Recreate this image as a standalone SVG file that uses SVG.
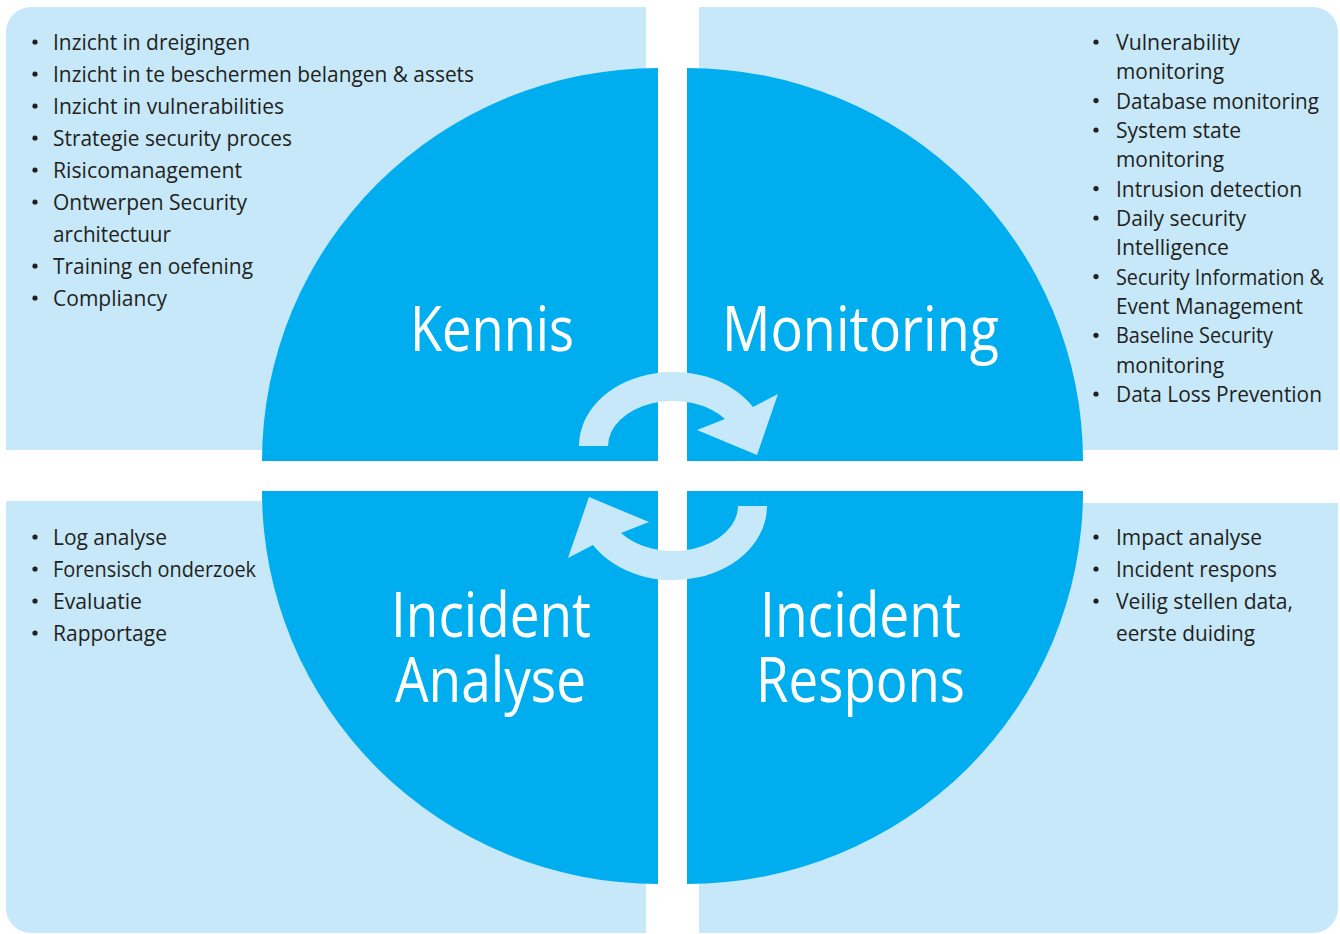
<svg xmlns="http://www.w3.org/2000/svg" width="1340" height="934" viewBox="0 0 1340 934">
<style>
.panel{fill:#c6e8f8}
.quad{fill:#00aeef}
.big{font-family:"Open Sans","DejaVu Sans",sans-serif;font-size:62px;fill:#ffffff;lengthAdjust:spacingAndGlyphs}
.li{font-family:"Open Sans","DejaVu Sans",sans-serif;font-size:21px;fill:#231f20}
.dot{fill:#231f20}
.arrow{fill:#c6e8f8}
</style>
<rect x="0" y="0" width="1340" height="934" fill="#ffffff"/>
<g id="kennis">
<path class="panel" d="M6,450 V32 A25,25 0 0 1 31,7 H646 V450 Z"/>
<path class="quad" d="M658,461 H262 A396,393 0 0 1 658,68 Z"/>
<text class="big" x="410" y="351" textLength="164" lengthAdjust="spacingAndGlyphs">Kennis</text>
<g class="dot"><circle cx="35" cy="42" r="2.6"/><circle cx="35" cy="74" r="2.6"/><circle cx="35" cy="106" r="2.6"/><circle cx="35" cy="138" r="2.6"/><circle cx="35" cy="170" r="2.6"/><circle cx="35" cy="202" r="2.6"/><circle cx="35" cy="266" r="2.6"/><circle cx="35" cy="298" r="2.6"/></g>
<text class="li" x="53" y="50" textLength="197" lengthAdjust="spacingAndGlyphs">Inzicht in dreigingen</text>
<text class="li" x="53" y="82" textLength="421" lengthAdjust="spacingAndGlyphs">Inzicht in te beschermen belangen &amp; assets</text>
<text class="li" x="53" y="114" textLength="231" lengthAdjust="spacingAndGlyphs">Inzicht in vulnerabilities</text>
<text class="li" x="53" y="146" textLength="239" lengthAdjust="spacingAndGlyphs">Strategie security proces</text>
<text class="li" x="53" y="178" textLength="189" lengthAdjust="spacingAndGlyphs">Risicomanagement</text>
<text class="li" x="53" y="210" textLength="194" lengthAdjust="spacingAndGlyphs">Ontwerpen Security</text>
<text class="li" x="53" y="242" textLength="118" lengthAdjust="spacingAndGlyphs">architectuur</text>
<text class="li" x="53" y="274" textLength="200" lengthAdjust="spacingAndGlyphs">Training en oefening</text>
<text class="li" x="53" y="306" textLength="114" lengthAdjust="spacingAndGlyphs">Compliancy</text>
</g>
<g id="monitoring">
<path class="panel" d="M699,7 H1313 A25,25 0 0 1 1338,32 V450 H699 Z"/>
<path class="quad" d="M687,461 V68 A396,393 0 0 1 1083,461 Z"/>
<text class="big" x="722" y="351" textLength="277" lengthAdjust="spacingAndGlyphs">Monitoring</text>
<g class="dot"><circle cx="1096" cy="42" r="2.6"/><circle cx="1096" cy="100.6" r="2.6"/><circle cx="1096" cy="130" r="2.6"/><circle cx="1096" cy="188.6" r="2.6"/><circle cx="1096" cy="218" r="2.6"/><circle cx="1096" cy="276.6" r="2.6"/><circle cx="1096" cy="335.3" r="2.6"/><circle cx="1096" cy="394" r="2.6"/></g>
<text class="li" x="1116" y="50" textLength="124" lengthAdjust="spacingAndGlyphs">Vulnerability</text>
<text class="li" x="1116" y="79.3" textLength="108" lengthAdjust="spacingAndGlyphs">monitoring</text>
<text class="li" x="1116" y="108.6" textLength="203" lengthAdjust="spacingAndGlyphs">Database monitoring</text>
<text class="li" x="1116" y="138" textLength="125" lengthAdjust="spacingAndGlyphs">System state</text>
<text class="li" x="1116" y="167.3" textLength="108" lengthAdjust="spacingAndGlyphs">monitoring</text>
<text class="li" x="1116" y="196.6" textLength="186" lengthAdjust="spacingAndGlyphs">Intrusion detection</text>
<text class="li" x="1116" y="226" textLength="130" lengthAdjust="spacingAndGlyphs">Daily security</text>
<text class="li" x="1116" y="255.3" textLength="113" lengthAdjust="spacingAndGlyphs">Intelligence</text>
<text class="li" x="1116" y="284.6" textLength="208" lengthAdjust="spacingAndGlyphs">Security Information &amp;</text>
<text class="li" x="1116" y="314" textLength="187" lengthAdjust="spacingAndGlyphs">Event Management</text>
<text class="li" x="1116" y="343.3" textLength="157" lengthAdjust="spacingAndGlyphs">Baseline Security</text>
<text class="li" x="1116" y="372.6" textLength="108" lengthAdjust="spacingAndGlyphs">monitoring</text>
<text class="li" x="1116" y="402" textLength="206" lengthAdjust="spacingAndGlyphs">Data Loss Prevention</text>
</g>
<g id="incident-analyse">
<path class="panel" d="M6,501 H646 V933 H31 A25,25 0 0 1 6,908 Z"/>
<path class="quad" d="M658,491 V884 A396,393 0 0 1 262,491 Z"/>
<text class="big" x="391" y="637" textLength="200" lengthAdjust="spacingAndGlyphs">Incident</text>
<text class="big" x="395" y="702" textLength="191" lengthAdjust="spacingAndGlyphs">Analyse</text>
<g class="dot"><circle cx="35" cy="537" r="2.6"/><circle cx="35" cy="569" r="2.6"/><circle cx="35" cy="601" r="2.6"/><circle cx="35" cy="633" r="2.6"/></g>
<text class="li" x="53" y="545" textLength="114" lengthAdjust="spacingAndGlyphs">Log analyse</text>
<text class="li" x="53" y="577" textLength="203" lengthAdjust="spacingAndGlyphs">Forensisch onderzoek</text>
<text class="li" x="53" y="609" textLength="89" lengthAdjust="spacingAndGlyphs">Evaluatie</text>
<text class="li" x="53" y="641" textLength="114" lengthAdjust="spacingAndGlyphs">Rapportage</text>
</g>
<g id="incident-respons">
<path class="panel" d="M699,503 H1338 V908 A25,25 0 0 1 1313,933 H699 Z"/>
<path class="quad" d="M687,491 H1083 A396,393 0 0 1 687,884 Z"/>
<text class="big" x="760" y="637" textLength="201" lengthAdjust="spacingAndGlyphs">Incident</text>
<text class="big" x="756" y="702" textLength="209" lengthAdjust="spacingAndGlyphs">Respons</text>
<g class="dot"><circle cx="1096" cy="537" r="2.6"/><circle cx="1096" cy="569" r="2.6"/><circle cx="1096" cy="601" r="2.6"/></g>
<text class="li" x="1116" y="545" textLength="146" lengthAdjust="spacingAndGlyphs">Impact analyse</text>
<text class="li" x="1116" y="577" textLength="161" lengthAdjust="spacingAndGlyphs">Incident respons</text>
<text class="li" x="1116" y="609" textLength="177" lengthAdjust="spacingAndGlyphs">Veilig stellen data,</text>
<text class="li" x="1116" y="641" textLength="139" lengthAdjust="spacingAndGlyphs">eerste duiding</text>
</g>
<g id="connectors">
<path id="arrow-top" class="arrow" d="M579,446 A94,74 0 0 1 753,407 L778,394 L757,455 L697,430 L725,419 A65,45 0 0 0 608,446 Z"/>
<path id="arrow-bottom" class="arrow" d="M579,446 A94,74 0 0 1 753,407 L778,394 L757,455 L697,430 L725,419 A65,45 0 0 0 608,446 Z" transform="rotate(180 673 476)"/>
</g>
</svg>
